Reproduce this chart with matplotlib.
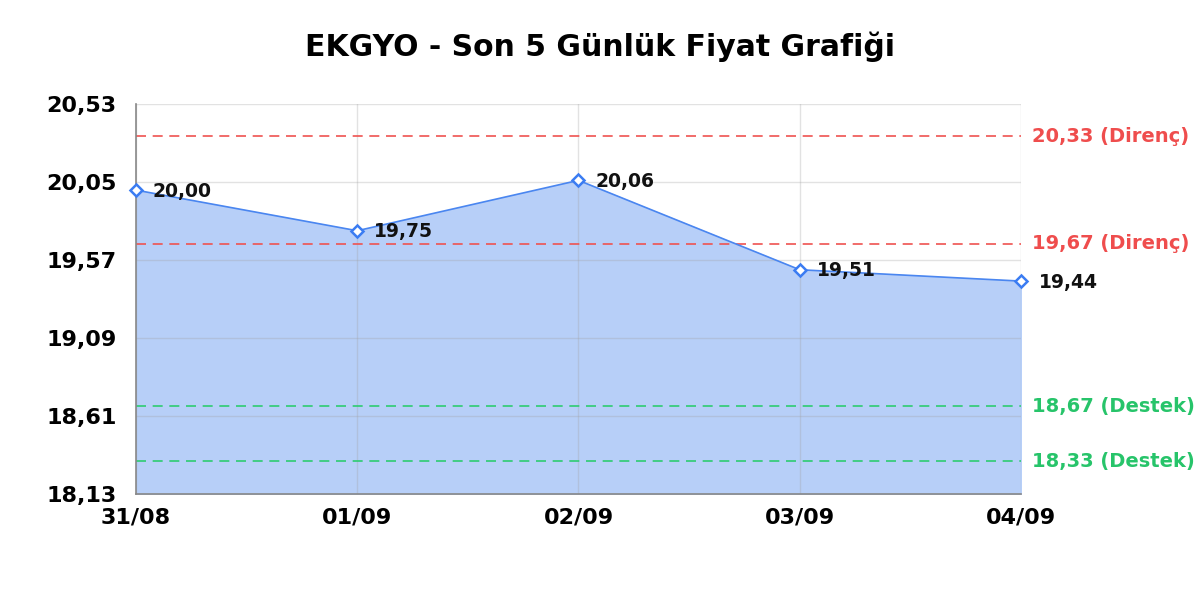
import matplotlib
matplotlib.use('Agg')
import matplotlib.pyplot as plt
import matplotlib.transforms as mtransforms

plt.rcParams['font.family'] = ['DejaVu Sans']

dates = ['31/08', '01/09', '02/09', '03/09', '04/09']
prices = [20.00, 19.75, 20.06, 19.51, 19.44]
yticks = [18.13, 18.61, 19.09, 19.57, 20.05, 20.53]
resist = [20.33, 19.67]
support = [18.67, 18.33]

def tr(v):
    return ('%.2f' % v).replace('.', ',')

fig = plt.figure(figsize=(12, 6), dpi=100)
ax = fig.add_axes([0.1133, 0.1767, 0.7375, 0.65])

x = list(range(len(dates)))
ax.fill_between(x, prices, yticks[0], color='#b7cff8', zorder=1)
ax.plot(x, prices, color='#4a86f0', lw=1.2, zorder=3,
        marker='D', ms=6, mfc='white', mec='#3b7cf2', mew=1.8, clip_on=False)

for xi, p in zip(x, prices):
    off = 17 if xi < len(x) - 1 else 18
    ax.annotate(tr(p), (xi, p), xytext=(off, -1), textcoords='offset pixels',
                ha='left', va='center', fontsize=13.5, fontweight='bold', color='#111111', zorder=4)

blend = mtransforms.blended_transform_factory(ax.transAxes, ax.transData)
for r in resist:
    ax.axhline(r, color='#ef5350', lw=1.2, ls=(0, (6, 4)), zorder=2)
    ax.text(1.013, r, tr(r) + ' (Direnç)', transform=blend, ha='left', va='center',
            fontsize=14, fontweight='bold', color='#ef4d4d')
for s in support:
    ax.axhline(s, color='#2ecc71', lw=1.2, ls=(0, (6, 4)), zorder=2)
    ax.text(1.013, s, tr(s) + ' (Destek)', transform=blend, ha='left', va='center',
            fontsize=14, fontweight='bold', color='#27c46a')

ax.set_xlim(0, len(x) - 1)
ax.set_ylim(yticks[0], yticks[-1])
ax.set_xticks(x)
ax.set_xticklabels(dates)
ax.set_yticks(yticks)
ax.set_yticklabels([tr(v) for v in yticks])
for lab in ax.get_xticklabels() + ax.get_yticklabels():
    lab.set_fontweight('bold')
    lab.set_fontsize(16)
ax.tick_params(axis='both', length=0)
ax.tick_params(axis='y', pad=14)
ax.tick_params(axis='x', pad=10)
ax.grid(True, color='#a0a0a0', alpha=0.3, lw=1, zorder=1.5)
for sp in ['top', 'right']:
    ax.spines[sp].set_visible(False)
for sp in ['left', 'bottom']:
    ax.spines[sp].set_color('#888888')
    ax.spines[sp].set_linewidth(1.2)

fig.suptitle('EKGYO - Son 5 Günlük Fiyat Grafiği', y=0.948, fontsize=21.5, fontweight='bold')

fig.savefig('out.png', dpi=100)
